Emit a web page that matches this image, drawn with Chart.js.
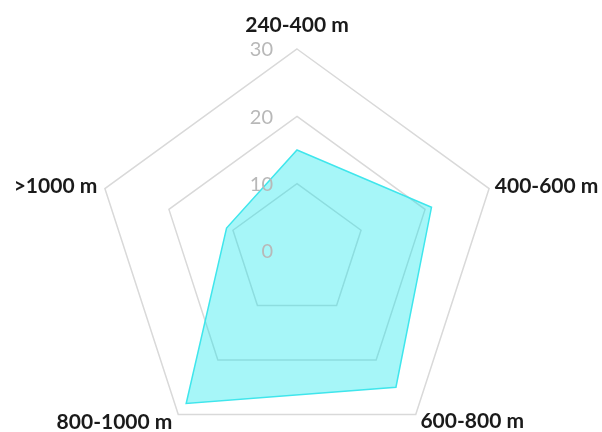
<!DOCTYPE html>
<html>
<head>
<meta charset="utf-8">
<script src="https://cdn.jsdelivr.net/npm/chart.js@4.4.1/dist/chart.umd.min.js"></script>
<style>
  html, body { margin: 0; padding: 0; background: #ffffff; overflow: hidden; }
  #wrap { position: relative; width: 602px; height: 432px; overflow: hidden; }
  canvas { display: block; }
</style>
</head>
<body>
<div id="wrap"><canvas id="c" width="602" height="453"></canvas></div>
<script>
const categories = ['240-400 m', '400-600 m', '600-800 m', '800-1000 m', '>1000 m'];
const values = [15, 21, 25, 28, 11];
const tickValues = [0, 10, 20, 30];

const labelOffsets = [23.5, 6, 8, 10, 8];

const customLabels = {
  id: 'customLabels',
  afterDatasetsDraw(chart) {
    const s = chart.scales.r;
    const ctx = chart.ctx;
    ctx.save();
    ctx.font = '20px Lato';
    ctx.fillStyle = '#b8b8b8';
    ctx.textAlign = 'right';
    ctx.textBaseline = 'middle';
    tickValues.forEach(v => {
      const d = s.getDistanceFromCenterForValue(v);
      ctx.fillText(String(v), s.xCenter - 24, s.yCenter - d + 1);
    });
    ctx.restore();
  },
  afterDraw(chart) {
    const s = chart.scales.r;
    const ctx = chart.ctx;
    ctx.save();
    ctx.font = 'bold 21px Lato';
    ctx.fillStyle = '#1a1a1a';
    ctx.textBaseline = 'middle';
    categories.forEach((lab, i) => {
      const p = s.getPointPosition(i, s.drawingArea + labelOffsets[i]);
      let align = 'center';
      if (p.x > s.xCenter + 5) align = 'left';
      else if (p.x < s.xCenter - 5) align = 'right';
      ctx.textAlign = align;
      ctx.fillText(lab, p.x, p.y);
    });
    ctx.restore();
  }
};

new Chart(document.getElementById('c'), {
  type: 'radar',
  data: {
    labels: categories,
    datasets: [{
      data: values,
      backgroundColor: 'rgba(0, 230, 235, 0.35)',
      borderColor: '#3fe6ec',
      borderWidth: 1.5,
      pointRadius: 0,
      fill: true
    }]
  },
  options: {
    responsive: false,
    animation: false,
    layout: { padding: { left: 0, right: 8, top: 49, bottom: 0 } },
    plugins: { legend: { display: false }, tooltip: { enabled: false } },
    scales: {
      r: {
        min: 0,
        max: 30,
        ticks: { stepSize: 10, display: false },
        grid: { color: '#d9d9d9', lineWidth: 1.5 },
        angleLines: { display: false },
        pointLabels: { display: false }
      }
    }
  },
  plugins: [customLabels]
});
</script>
</body>
</html>
